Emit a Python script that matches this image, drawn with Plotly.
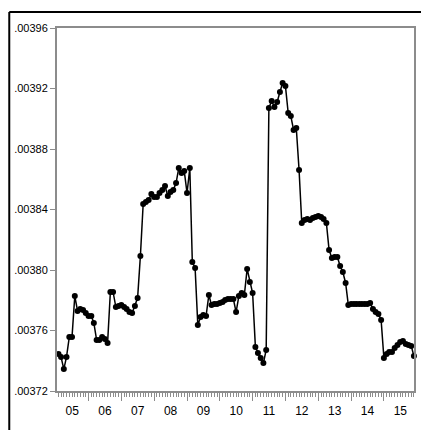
import pandas as pd
import plotly.graph_objects as go

# Monthly observations, Feb 2005 - Dec 2015
start_month = "2005-02-01"
values = [
    0.0037445, 0.0037425, 0.0037345, 0.0037425, 0.0037557, 0.0037557, 0.0037828, 0.0037729,
    0.0037742, 0.0037736, 0.0037716, 0.0037696, 0.0037696, 0.0037650, 0.0037537, 0.0037537,
    0.0037557, 0.0037544, 0.0037517, 0.0037855, 0.0037855, 0.0037755, 0.0037762, 0.0037769,
    0.0037755, 0.0037742, 0.0037722, 0.0037716, 0.0037762, 0.0037815, 0.0038093, 0.0038436,
    0.0038450, 0.0038463, 0.0038502, 0.0038483, 0.0038483, 0.0038509, 0.0038529, 0.0038555,
    0.0038489, 0.0038516, 0.0038529, 0.0038575, 0.0038674, 0.0038641, 0.0038655, 0.0038509,
    0.0038674, 0.0038053, 0.0038013, 0.0037636, 0.0037689, 0.0037702, 0.0037696, 0.0037835,
    0.0037769, 0.0037775, 0.0037775, 0.0037782, 0.0037788, 0.0037802, 0.0037808, 0.0037808,
    0.0037808, 0.0037722, 0.0037828, 0.0037848, 0.0037835, 0.0038007, 0.0037921, 0.0037848,
    0.0037491, 0.0037451, 0.0037418, 0.0037385, 0.0037471, 0.0039071, 0.0039117, 0.0039078,
    0.0039111, 0.0039177, 0.0039236, 0.0039217, 0.0039038, 0.0039018, 0.0038926, 0.0038939,
    0.0038661, 0.0038311, 0.0038331, 0.0038337, 0.0038331, 0.0038344, 0.0038350, 0.0038357,
    0.0038350, 0.0038337, 0.0038311, 0.0038132, 0.0038079, 0.0038086, 0.0038086, 0.0038026,
    0.0037987, 0.0037914, 0.0037769, 0.0037775, 0.0037775, 0.0037775, 0.0037775, 0.0037775,
    0.0037775, 0.0037775, 0.0037782, 0.0037742, 0.0037722, 0.0037709, 0.0037669, 0.0037418,
    0.0037445, 0.0037458, 0.0037458, 0.0037484, 0.0037504, 0.0037524, 0.0037531, 0.0037511,
    0.0037504, 0.0037498, 0.0037431,
]
dates = pd.date_range(start_month, periods=len(values), freq="MS")

y_ticks = [0.00372, 0.00376, 0.00380, 0.00384, 0.00388, 0.00392, 0.00396]
y_tick_text = [".00372", ".00376", ".00380", ".00384", ".00388", ".00392", ".00396"]

FONT = "Liberation Sans, Arial, sans-serif"
AXIS_GREY = "#8c8c8c"

fig = go.Figure(
    go.Scatter(
        x=dates,
        y=values,
        mode="lines+markers",
        line=dict(color="black", width=1.5),
        marker=dict(color="black", size=6),
        cliponaxis=False,
        hoverinfo="x+y",
    )
)

fig.update_layout(
    width=421,
    height=430,
    margin=dict(l=57, r=5, t=28, b=39),
    paper_bgcolor="white",
    plot_bgcolor="white",
    showlegend=False,
    font=dict(family=FONT, size=11, color="black"),
)

fig.update_xaxes(
    type="date",
    range=["2005-01-15", "2015-12-02"],
    tick0="2005-01-01",
    dtick="M12",
    tickformat="%y",
    ticklabelmode="period",
    ticks="outside",
    ticklen=8,
    tickwidth=1,
    tickcolor=AXIS_GREY,
    minor=dict(dtick="M1", ticks="outside", ticklen=4, tickcolor=AXIS_GREY, tickwidth=1),
    showgrid=False,
    zeroline=False,
    showline=True,
    linecolor=AXIS_GREY,
    linewidth=2,
    mirror=True,
    tickfont=dict(size=12),
)

fig.update_yaxes(
    range=[0.00372, 0.00396],
    tickvals=y_ticks,
    ticktext=y_tick_text,
    ticks="outside",
    ticklen=5,
    tickwidth=1,
    tickcolor=AXIS_GREY,
    showgrid=False,
    zeroline=False,
    showline=True,
    linecolor=AXIS_GREY,
    linewidth=2,
    mirror=True,
    tickfont=dict(size=11),
)

# Outer black frame: top and left edges (the other two sides lie off the page)
frame_left = (9 - 57) / 359
frame_top = 1 + (28 - 12) / 363
for x0, y0, x1, y1 in [
    (frame_left, frame_top, 1.2, frame_top),
    (frame_left, frame_top, frame_left, -0.3),
]:
    fig.add_shape(
        type="line",
        xref="paper",
        yref="paper",
        x0=x0,
        y0=y0,
        x1=x1,
        y1=y1,
        line=dict(color="black", width=2),
        layer="above",
    )

fig.write_html("out.html", config={"displayModeBar": False})
